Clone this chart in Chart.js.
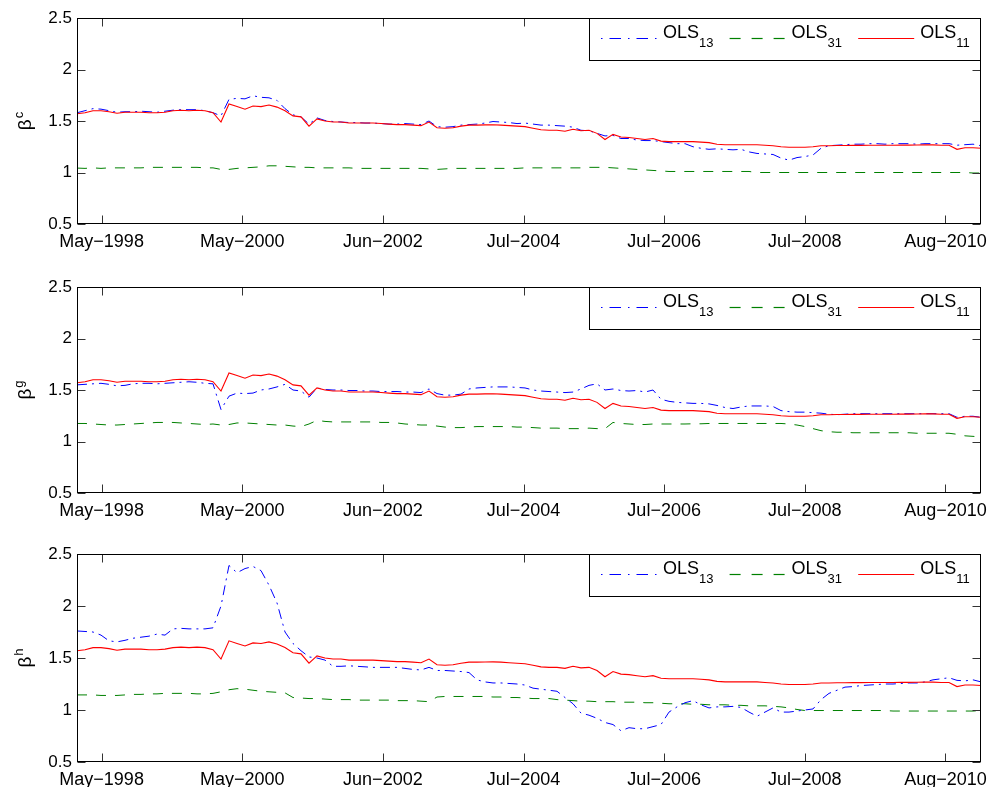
<!DOCTYPE html>
<html><head><meta charset="utf-8">
<script src="https://cdn.jsdelivr.net/npm/chart.js@4.4.0/dist/chart.umd.min.js"></script>
<style>
html,body{margin:0;padding:0;background:#fff;overflow:hidden;width:987px;height:787px;position:relative;}
canvas{position:absolute;left:0;}
</style></head><body>
<script>
// ---- tick labels ----
const xTickLabels = ['May\u22121998','May\u22122000','Jun\u22122002','Jul\u22122004','Jul\u22122006','Jul\u22122008','Aug\u22122010'];
const yTickValues = [0.5, 1, 1.5, 2, 2.5];
const yTickLabels = ['0.5', '1', '1.5', '2', '2.5'];
const ySuperscripts = ['c', 'g', 'h'];
const seriesBase = ['OLS', 'OLS', 'OLS'];
const seriesSub = ['13', '31', '11'];
const seriesColors = ['#0000ff', '#008000', '#ff0000'];
// x range in tick-interval units (tick i sits at x = i)
const X_MIN = -0.175, X_MAX = 6.253;

// ---- series values (evenly sampled across the x range) ----
const ols11 = [1.57,1.58,1.60,1.60,1.59,1.575,1.585,1.585,1.585,1.58,
 1.58,1.585,1.60,1.605,1.60,1.605,1.60,1.58,1.49,1.665,
 1.64,1.615,1.645,1.64,1.655,1.635,1.60,1.55,1.54,1.45,
 1.52,1.50,1.49,1.49,1.48,1.48,1.48,1.48,1.475,1.47,
 1.465,1.465,1.46,1.455,1.49,1.435,1.43,1.435,1.45,1.46,
 1.46,1.462,1.463,1.46,1.455,1.45,1.445,1.43,1.415,1.41,
 1.41,1.40,1.42,1.405,1.41,1.38,1.32,1.37,1.345,1.34,
 1.33,1.32,1.33,1.305,1.30,1.30,1.30,1.30,1.295,1.29,
 1.275,1.27,1.27,1.27,1.27,1.27,1.265,1.26,1.25,1.245,
 1.245,1.245,1.25,1.26,1.26,1.262,1.262,1.263,1.263,1.264,
 1.264,1.265,1.265,1.266,1.266,1.267,1.268,1.268,1.265,1.265,
 1.225,1.24,1.24,1.235];

const ols13_c = [1.58,1.60,1.62,1.615,1.60,1.585,1.59,1.59,1.595,1.59,
 1.585,1.595,1.605,1.61,1.61,1.61,1.60,1.58,1.55,1.71,
 1.72,1.715,1.745,1.73,1.725,1.70,1.62,1.56,1.54,1.47,
 1.53,1.505,1.495,1.49,1.485,1.485,1.48,1.48,1.475,1.47,
 1.47,1.475,1.47,1.465,1.50,1.445,1.44,1.445,1.46,1.465,
 1.47,1.48,1.495,1.49,1.485,1.475,1.48,1.47,1.46,1.46,
 1.455,1.45,1.44,1.41,1.405,1.38,1.355,1.36,1.33,1.33,
 1.315,1.31,1.31,1.30,1.29,1.28,1.28,1.25,1.235,1.225,
 1.23,1.225,1.22,1.225,1.20,1.185,1.18,1.175,1.14,1.12,
 1.145,1.155,1.17,1.235,1.26,1.265,1.27,1.275,1.275,1.28,
 1.28,1.275,1.28,1.28,1.28,1.275,1.28,1.28,1.28,1.28,
 1.265,1.27,1.275,1.26];

const ols31_c = [1.043,1.04,1.045,1.04,1.045,1.045,1.045,1.045,1.045,1.05,
 1.05,1.05,1.05,1.05,1.05,1.05,1.045,1.045,1.03,1.03,
 1.04,1.045,1.05,1.055,1.065,1.065,1.06,1.055,1.05,1.05,
 1.045,1.045,1.045,1.045,1.045,1.04,1.04,1.04,1.04,1.04,
 1.04,1.04,1.04,1.04,1.035,1.03,1.035,1.04,1.04,1.04,
 1.04,1.04,1.04,1.04,1.04,1.04,1.045,1.045,1.045,1.045,
 1.045,1.045,1.045,1.045,1.05,1.05,1.05,1.045,1.04,1.035,
 1.03,1.025,1.02,1.015,1.01,1.01,1.01,1.01,1.01,1.01,
 1.01,1.01,1.01,1.01,1.01,1.0,1.0,1.0,1.0,1.0,
 1.0,1.0,1.0,1.0,1.0,1.0,1.0,1.0,1.0,1.0,
 1.0,1.0,1.0,1.0,1.0,1.0,1.0,1.0,1.0,1.0,
 1.0,1.0,0.995,0.995];

const ols13_g = [1.55,1.555,1.56,1.565,1.555,1.54,1.545,1.56,1.565,1.565,
 1.56,1.565,1.57,1.575,1.58,1.575,1.565,1.56,1.31,1.44,
 1.47,1.465,1.47,1.50,1.51,1.53,1.555,1.50,1.49,1.43,
 1.52,1.505,1.50,1.50,1.495,1.495,1.49,1.49,1.485,1.485,
 1.485,1.48,1.48,1.475,1.51,1.465,1.45,1.45,1.46,1.51,
 1.52,1.525,1.53,1.53,1.53,1.525,1.52,1.50,1.49,1.485,
 1.48,1.475,1.48,1.51,1.545,1.56,1.50,1.51,1.495,1.49,
 1.495,1.48,1.50,1.41,1.39,1.38,1.375,1.37,1.37,1.365,
 1.35,1.33,1.32,1.335,1.345,1.345,1.345,1.34,1.30,1.29,
 1.285,1.285,1.28,1.275,1.265,1.26,1.265,1.27,1.27,1.27,
 1.27,1.27,1.27,1.27,1.27,1.27,1.27,1.27,1.27,1.27,
 1.235,1.245,1.245,1.235];

const ols31_g = [1.175,1.175,1.17,1.165,1.16,1.16,1.165,1.17,1.175,1.18,
 1.185,1.185,1.185,1.18,1.175,1.17,1.165,1.17,1.16,1.165,
 1.18,1.18,1.175,1.17,1.165,1.16,1.16,1.15,1.145,1.17,
 1.205,1.195,1.19,1.19,1.19,1.19,1.19,1.19,1.185,1.185,
 1.18,1.17,1.165,1.16,1.16,1.15,1.14,1.135,1.135,1.14,
 1.145,1.145,1.145,1.145,1.145,1.14,1.14,1.135,1.13,1.13,
 1.13,1.125,1.125,1.125,1.13,1.125,1.125,1.185,1.175,1.17,
 1.165,1.165,1.17,1.17,1.17,1.17,1.17,1.172,1.172,1.175,
 1.175,1.175,1.175,1.175,1.175,1.175,1.175,1.175,1.175,1.17,
 1.16,1.145,1.125,1.105,1.095,1.09,1.09,1.085,1.085,1.085,
 1.085,1.085,1.085,1.085,1.085,1.08,1.08,1.08,1.08,1.08,
 1.07,1.055,1.05,1.045];

const ols13_h = [1.76,1.755,1.75,1.72,1.665,1.655,1.67,1.69,1.70,1.71,
 1.73,1.72,1.78,1.785,1.78,1.78,1.78,1.79,2.0,2.39,
 2.32,2.36,2.38,2.34,2.2,2.03,1.75,1.64,1.57,1.51,
 1.50,1.48,1.42,1.42,1.425,1.42,1.415,1.41,1.41,1.41,
 1.41,1.40,1.39,1.385,1.41,1.38,1.38,1.375,1.37,1.36,
 1.29,1.27,1.26,1.26,1.255,1.25,1.24,1.21,1.20,1.19,
 1.18,1.12,1.06,0.97,0.95,0.92,0.88,0.86,0.80,0.83,
 0.82,0.82,0.84,0.86,0.98,1.03,1.07,1.09,1.05,1.02,
 1.03,1.03,1.035,1.025,0.98,0.94,0.98,1.02,0.98,0.98,
 0.99,1.0,1.01,1.10,1.16,1.19,1.22,1.225,1.235,1.24,
 1.245,1.25,1.25,1.255,1.26,1.26,1.27,1.29,1.30,1.31,
 1.285,1.28,1.29,1.27];

const ols31_h = [1.145,1.145,1.145,1.14,1.14,1.14,1.145,1.15,1.15,1.155,
 1.155,1.16,1.16,1.16,1.16,1.155,1.155,1.16,1.175,1.195,
 1.205,1.20,1.19,1.18,1.175,1.17,1.165,1.12,1.115,1.11,
 1.11,1.105,1.10,1.10,1.10,1.095,1.095,1.095,1.095,1.095,
 1.09,1.09,1.09,1.085,1.08,1.125,1.13,1.13,1.13,1.13,
 1.13,1.13,1.125,1.125,1.12,1.12,1.115,1.11,1.11,1.11,
 1.10,1.095,1.09,1.085,1.085,1.08,1.08,1.08,1.075,1.075,
 1.075,1.07,1.07,1.065,1.06,1.06,1.06,1.055,1.055,1.05,
 1.05,1.05,1.045,1.045,1.04,1.04,1.04,1.035,1.03,1.02,
 1.005,0.995,0.995,0.995,0.995,0.995,0.995,0.995,0.995,0.995,
 0.995,0.995,0.99,0.99,0.99,0.99,0.99,0.99,0.99,0.99,
 0.99,0.99,0.99,0.995];

// ---- drawing ----
const FONT = "'Liberation Sans', Arial, Helvetica, sans-serif";
const TICK_LEN = 8;

function toPoints(vals) {
  const n = vals.length;
  return vals.map((v, k) => ({ x: X_MIN + k * (X_MAX - X_MIN) / (n - 1), y: v }));
}

const frameAndTicks = {
  id: 'frameAndTicks',
  afterDatasetsDraw(chart) {
    const { ctx, chartArea: a, scales: { x, y } } = chart;
    const L = Math.round(a.left) + 0.5, R = Math.round(a.right) - 0.5;
    const T = Math.round(a.top) + 0.5, B = Math.round(a.bottom) - 0.5;
    ctx.save();
    ctx.lineWidth = 1;
    ctx.setLineDash([]);
    ctx.strokeStyle = '#333';
    ctx.beginPath();
    x.ticks.forEach(t => {
      const px = Math.round(x.getPixelForValue(t.value)) + 0.5;
      ctx.moveTo(px, B); ctx.lineTo(px, B - TICK_LEN);
      ctx.moveTo(px, T); ctx.lineTo(px, T + TICK_LEN);
    });
    y.ticks.forEach(t => {
      const py = Math.round(y.getPixelForValue(t.value)) + 0.5;
      ctx.moveTo(L, py); ctx.lineTo(L + TICK_LEN, py);
      ctx.moveTo(R, py); ctx.lineTo(R - TICK_LEN, py);
    });
    ctx.stroke();
    ctx.strokeStyle = '#000';
    ctx.strokeRect(L, T, R - L, B - T);
    ctx.restore();
  }
};

const legendBox = {
  id: 'legendBox',
  afterDatasetsDraw(chart) {
    const { ctx, chartArea: a } = chart;
    const br = Math.round(a.right) - 0.5, bt = Math.round(a.top) + 0.5;
    const bl = Math.round(a.right - 392.5) + 0.5, bb = bt + 42;
    ctx.save();
    ctx.fillStyle = '#fff';
    ctx.fillRect(bl, bt, br - bl, bb - bt);
    ctx.strokeStyle = '#000';
    ctx.lineWidth = 1;
    ctx.setLineDash([]);
    ctx.strokeRect(bl, bt, br - bl, bb - bt);
    chart.data.datasets.forEach((ds, i) => {
      const sx = bl + 11.5 + i * 128.6;
      const ly = bt + 20;
      ctx.strokeStyle = seriesColors[i];
      ctx.lineWidth = 1.2;
      ctx.setLineDash(ds.legendDash || []);
      ctx.beginPath();
      ctx.moveTo(sx, ly); ctx.lineTo(sx + 56, ly);
      ctx.stroke();
      ctx.setLineDash([]);
      ctx.fillStyle = '#000';
      ctx.textAlign = 'left';
      ctx.textBaseline = 'alphabetic';
      ctx.font = '18px ' + FONT;
      const tx = sx + 62;
      ctx.fillText(seriesBase[i], tx, bt + 19.5);
      const w = ctx.measureText(seriesBase[i]).width;
      ctx.font = '13px ' + FONT;
      ctx.fillText(seriesSub[i], tx + w, bt + 28);
    });
    ctx.restore();
  }
};

function makeYTitle(sup) {
  return {
    id: 'yTitle',
    afterDraw(chart) {
      const { ctx, chartArea: a } = chart;
      const cy = (a.top + a.bottom) / 2;
      ctx.save();
      ctx.fillStyle = '#000';
      ctx.textAlign = 'left';
      ctx.textBaseline = 'alphabetic';
      ctx.font = '19px ' + FONT;
      const wb = ctx.measureText('\u03B2').width;
      ctx.font = '13px ' + FONT;
      const ws = ctx.measureText(sup).width;
      const total = wb + 1 + ws;
      ctx.translate(30.5, cy + total / 2);
      ctx.rotate(-Math.PI / 2);
      ctx.font = '19px ' + FONT;
      ctx.fillText('\u03B2', 0, 0);
      ctx.font = '13px ' + FONT;
      ctx.fillText(sup, wb + 1, -7.2);
      ctx.restore();
    }
  };
}

const panels = [
  { sup: ySuperscripts[0], blue: ols13_c, green: ols31_c, red: ols11, top: 18, bottom: 224 },
  { sup: ySuperscripts[1], blue: ols13_g, green: ols31_g, red: ols11, top: 287, bottom: 493 },
  { sup: ySuperscripts[2], blue: ols13_h, green: ols31_h, red: ols11, top: 554, bottom: 762 }
];

const PAD_TOP = 18, XAXIS_H = 30, Y_AXIS_W = 77, PAD_RIGHT = 6;

panels.forEach(p => {
  const cv = document.createElement('canvas');
  const h = (p.bottom - p.top) + PAD_TOP + XAXIS_H;
  cv.width = 987; cv.height = h;
  cv.style.width = '987px'; cv.style.height = h + 'px';
  cv.style.top = (p.top - PAD_TOP) + 'px';
  document.body.appendChild(cv);

  new Chart(cv, {
    type: 'line',
    data: {
      datasets: [
        { label: 'OLS13', data: toPoints(p.blue), borderColor: seriesColors[0], borderWidth: 1,
          borderDash: [10, 5, 2, 5], legendDash: [1.5, 7, 11.5, 7], pointRadius: 0, order: 1 },
        { label: 'OLS31', data: toPoints(p.green), borderColor: seriesColors[1], borderWidth: 1,
          borderDash: [10, 9], legendDash: [11, 11], pointRadius: 0, order: 2 },
        { label: 'OLS11', data: toPoints(p.red), borderColor: seriesColors[2], borderWidth: 1.1,
          pointRadius: 0, order: 0 }
      ]
    },
    options: {
      responsive: false,
      animation: false,
      devicePixelRatio: 1,
      layout: { padding: { top: PAD_TOP, right: PAD_RIGHT, left: 0, bottom: 0 } },
      plugins: { legend: { display: false }, tooltip: { enabled: false } },
      elements: { line: { tension: 0 } },
      scales: {
        x: {
          type: 'linear', min: X_MIN, max: X_MAX,
          afterBuildTicks: s => { s.ticks = xTickLabels.map((_, i) => ({ value: i })); },
          afterFit: s => { s.height = XAXIS_H; s.paddingLeft = 0; s.paddingRight = 0; },
          grid: { display: false, drawTicks: false },
          border: { display: false },
          ticks: {
            callback: v => xTickLabels[Math.round(v)],
            autoSkip: false, maxRotation: 0, minRotation: 0,
            padding: 7, color: '#000', font: { family: FONT, size: 18 }
          }
        },
        y: {
          type: 'linear', min: 0.5, max: 2.5,
          afterBuildTicks: s => { s.ticks = yTickValues.map(v => ({ value: v })); },
          afterFit: s => { s.width = Y_AXIS_W; s.paddingTop = 0; s.paddingBottom = 0; },
          grid: { display: false, drawTicks: false },
          border: { display: false },
          ticks: {
            callback: v => yTickLabels[yTickValues.indexOf(v)],
            padding: 5, color: '#000', font: { family: FONT, size: 17 }
          }
        }
      }
    },
    plugins: [frameAndTicks, legendBox, makeYTitle(p.sup)]
  });
});
</script>
</body></html>
